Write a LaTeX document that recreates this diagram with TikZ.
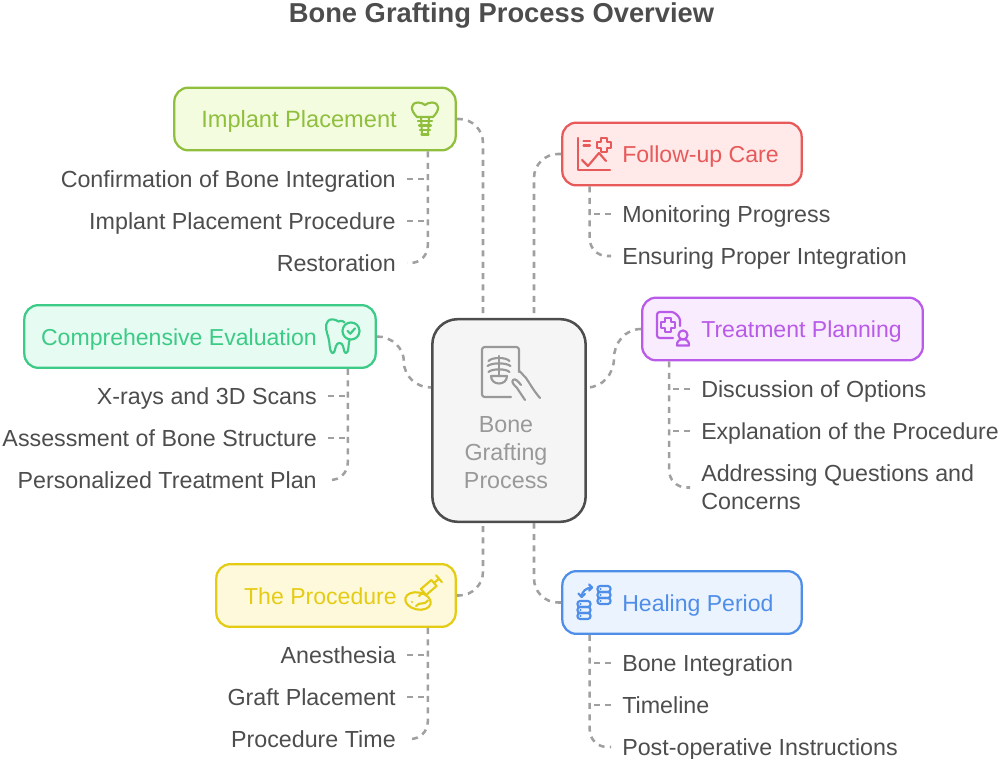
\documentclass[tikz,border=0pt]{standalone}
\usepackage{fontspec}
\setmainfont{Liberation Sans}
\usetikzlibrary{calc}
\definecolor{inkgray}{HTML}{4D4D4D}
\definecolor{linkgray}{HTML}{A0A0A0}
\definecolor{implantgreen}{HTML}{8FBF3D}
\definecolor{implantfill}{HTML}{F4FCE0}
\definecolor{followred}{HTML}{E85A5A}
\definecolor{followfill}{HTML}{FFE9E9}
\definecolor{planpurple}{HTML}{B95AE8}
\definecolor{planfill}{HTML}{F9ECFF}
\definecolor{evalgreen}{HTML}{3CCB87}
\definecolor{evalfill}{HTML}{E6FBF1}
\definecolor{procyellow}{HTML}{E5CC14}
\definecolor{procfill}{HTML}{FFF9DB}
\definecolor{healblue}{HTML}{4F8EE8}
\definecolor{healfill}{HTML}{EBF3FF}
\definecolor{centergray}{HTML}{999999}

\begin{document}
\begin{tikzpicture}[
    x=0.75pt, y=-0.75pt,
    stagebox/.style n args={3}{draw=#1, fill=#2, text=#1, line width=1.7pt, rounded corners=10.5pt, minimum width=#3, minimum height=47pt},
    stagelabel/.style={font=\fontsize{17.3}{21}\selectfont, text height=14.5pt, text depth=1.5pt, inner sep=0pt},
    itemleft/.style={font=\fontsize{17.45}{21}\selectfont, text=inkgray, text height=14.5pt, text depth=1.5pt, inner xsep=8.25pt, inner ysep=0pt, anchor=east},
    itemright/.style={font=\fontsize{17.45}{21}\selectfont, text=inkgray, text height=14.5pt, text depth=1.5pt, inner xsep=8.25pt, inner ysep=0pt, anchor=west},
    linkline/.style={draw=linkgray, line width=1.9pt, dash pattern=on 4.5pt off 4pt},
    iconline/.style={line width=1.6pt, line cap=round, line join=round}
]
\useasboundingbox (0,0) rectangle (1000,759);

% Title
\node[font=\bfseries\fontsize{20.5}{24}\selectfont, text=inkgray] (title) at (501.5,15) {Bone Grafting Process Overview};

% Center box
\node[draw=inkgray, fill=black!4, line width=1.9pt, rounded corners=19pt, minimum width=115pt, minimum height=152pt] (center) at (509,420.5) {};
\node[font=\fontsize{17.45}{21}\selectfont, text=centergray, align=center] (centerlabel) at (506,453) {Bone\\Grafting\\Process};

% Stage boxes
\node[stagebox={implantgreen}{implantfill}{211pt}] (implant) at (315,119) {};
\node[stagebox={followred}{followfill}{179.5pt}] (follow) at (682,154) {};
\node[stagebox={planpurple}{planfill}{210.5pt}] (plan) at (782.5,329) {};
\node[stagebox={evalgreen}{evalfill}{263.5pt}] (evaluation) at (200,336.5) {};
\node[stagebox={procyellow}{procfill}{179.5pt}] (procedure) at (336,595.5) {};
\node[stagebox={healblue}{healfill}{179.5pt}] (healing) at (682,602.5) {};

\node[stagelabel, text=implantgreen, anchor=east, font=\fontsize{17.7}{21}\selectfont] (implantlabel) at (397,119) {Implant Placement};
\node[stagelabel, text=followred, anchor=west] (followlabel) at (622,154) {Follow-up Care};
\node[stagelabel, text=planpurple, anchor=west] (planlabel) at (701,329) {Treatment Planning};
\node[stagelabel, text=evalgreen, anchor=east] (evaluationlabel) at (317,336.5) {Comprehensive Evaluation};
\node[stagelabel, text=procyellow, anchor=east] (procedurelabel) at (397,595.5) {The Procedure};
\node[stagelabel, text=healblue, anchor=west] (healinglabel) at (622,602.5) {Healing Period};

% Items
\node[itemleft] (implantA) at (407,179) {Confirmation of Bone Integration};
\node[itemleft] (implantB) at (407,221) {Implant Placement Procedure};
\node[itemleft] (implantC) at (407,263) {Restoration};
\node[itemright] (followA) at (611,214) {Monitoring Progress};
\node[itemright] (followB) at (611,256) {Ensuring Proper Integration};
\node[itemright] (planA) at (690,389) {Discussion of Options};
\node[itemright, font=\fontsize{17.3}{21}\selectfont] (planB) at (690,431) {Explanation of the Procedure};
\node[itemright, align=left, text height=, text depth=] (planC) at (690,487.5) {Addressing Questions and\\Concerns};
\node[itemleft] (evaluationA) at (328,396) {X-rays and 3D Scans};
\node[itemleft] (evaluationB) at (328,438) {Assessment of Bone Structure};
\node[itemleft] (evaluationC) at (328,480) {Personalized Treatment Plan};
\node[itemleft] (procedureA) at (407,655) {Anesthesia};
\node[itemleft] (procedureB) at (407,697) {Graft Placement};
\node[itemleft] (procedureC) at (407,739) {Procedure Time};
\node[itemright] (healingA) at (611,663) {Bone Integration};
\node[itemright] (healingB) at (611,705) {Timeline};
\node[itemright] (healingC) at (611,747) {Post-operative Instructions};

% Links to the center box
\coordinate (topleft) at ($(center.north)+(-26,0)$);
\coordinate (topright) at ($(center.north)+(25,0)$);
\coordinate (botleft) at ($(center.south)+(-26,0)$);
\coordinate (botright) at ($(center.south)+(25,0)$);
\coordinate (midleft) at ($(center.west)+(0,-33)$);
\coordinate (midright) at ($(center.east)+(0,-33)$);
\coordinate (bendleft) at ($(evaluation.east)!0.5!(midleft)$);
\coordinate (bendright) at ($(plan.west)!0.5!(midright)$);

\draw[linkline, rounded corners=18pt] (implant.east) -| (topleft);
\draw[linkline, rounded corners=18pt] (follow.west) -| (topright);
\draw[linkline, rounded corners=18pt] (procedure.east) -| (botleft);
\draw[linkline, rounded corners=18pt] (healing.west) -| (botright);
\draw[linkline] (evaluation.east) to[out=0, in=90] (bendleft) to[out=-90, in=180] (midleft);
\draw[linkline] (plan.west) to[out=180, in=90] (bendright) to[out=-90, in=0] (midright);

% Trunks and stubs
\coordinate (implanttrunk) at ($(implant.south east)+(-29,0)$);
\coordinate (followtrunk) at ($(follow.south west)+(28.5,0)$);
\coordinate (plantrunk) at ($(plan.south west)+(28,0)$);
\coordinate (evaluationtrunk) at ($(evaluation.south east)+(-29,0)$);
\coordinate (proceduretrunk) at ($(procedure.south east)+(-29,0)$);
\coordinate (healingtrunk) at ($(healing.south west)+(28.5,0)$);

\foreach \stage/\last/\side in {implant/C/east, follow/B/west, plan/C/west, evaluation/C/east, procedure/C/east, healing/C/west} {
    \draw[linkline, rounded corners=13pt] (\stage trunk) |- (\stage\last.\side);
}
\foreach \item/\stage/\side in {implantA/implant/east, implantB/implant/east, evaluationA/evaluation/east, evaluationB/evaluation/east, procedureA/procedure/east, procedureB/procedure/east, followA/follow/west, planA/plan/west, planB/plan/west, healingA/healing/west, healingB/healing/west} {
    \draw[linkline] (\item.\side) -- (\item.\side -| \stage trunk);
}

% Icon: implant
\begin{scope}[iconline, draw=implantgreen]
\draw (417,117) .. controls (410,110) and (410,103) .. (418,102.5) .. controls (421,102) and (423,104) .. (425,105) .. controls (427,104) and (429,102) .. (432,102.5) .. controls (440,103) and (440,110) .. (433,117) -- cycle;
\draw (418,121) -- (432,121) (419,125.5) -- (431,125.5) (420,130) -- (430,130) (421.5,134.5) -- (428.5,134.5);
\draw (421,117) -- (422,134.5) (429,117) -- (428,134.5);
\end{scope}

% Icon: follow-up
\begin{scope}[iconline, draw=followred]
\draw (577.7,138) -- (577.7,170) -- (610,170);
\draw (583.5,141) -- (590,141) (583.5,145.5) -- (590,145.5);
\draw (601.3,138) -- (606.7,138) -- (606.7,142.3) -- (611,142.3) -- (611,147.7) -- (606.7,147.7) -- (606.7,152) -- (601.3,152) -- (601.3,147.7) -- (597,147.7) -- (597,142.3) -- (601.3,142.3) -- cycle;
\draw (582,160) -- (588,166) -- (599,153) -- (606,161);
\end{scope}

% Icon: plan
\begin{scope}[iconline, draw=planpurple]
\draw[rounded corners=2pt] (680,326) -- (680,318) -- (674,312) -- (657,312) -- (657,338) -- (673,338);
\draw (665.3,318) -- (670.7,318) -- (670.7,322.3) -- (675,322.3) -- (675,327.7) -- (670.7,327.7) -- (670.7,332) -- (665.3,332) -- (665.3,327.7) -- (661,327.7) -- (661,322.3) -- (665.3,322.3) -- cycle;
\draw (683,335) circle (3.4pt);
\draw (677,345.5) .. controls (676,337) and (690,337) .. (689,345.5) -- cycle;
\end{scope}

% Icon: evaluation
\begin{scope}[iconline, draw=evalgreen]
\draw (344.5,322.5) .. controls (342,320) and (340,321) .. (338.5,321.5) .. controls (335,319) and (330,318.5) .. (328,321) .. controls (324,325) and (327,333) .. (328.5,338) .. controls (330,343) and (329,350) .. (332,353) .. controls (335,354) and (335,348) .. (336,346) .. controls (337,342) and (342,342) .. (343,346) .. controls (344,349) and (344,353) .. (346,353) .. controls (349,353) and (348,345) .. (349.5,340);
\draw (351,331) circle (6.4pt);
\draw (347.5,331) -- (350.3,333.7) -- (355,328.3);
\end{scope}

% Icon: procedure
\begin{scope}[iconline, draw=procyellow]
\draw[rotate around={-12:(418,601)}] (418,601) ellipse (9.7pt and 6.4pt);
\draw (412,602) -- (412.1,602) (416,606) .. controls (420,601) and (424,606) .. (428,600.5);
\draw[fill=procfill] (426.1,595) -- (420.9,589) -- (431.4,580) -- (436.6,586) -- cycle;
\draw (423.5,592) -- (419,596);
\draw (434,583) -- (439,578.7) (441.9,582.1) -- (436.1,575.3);
\end{scope}

% Icon: healing
\begin{scope}[iconline, draw=healblue]
\foreach \y in {601,607,613} {
    \draw[rounded corners=2pt] (577.5,\y) rectangle (590.5,\y+6);
    \draw (580.5,\y+3) -- (580.6,\y+3);
}
\foreach \y in {586,592,598} {
    \draw[rounded corners=2pt] (597.5,\y) rectangle (610.5,\y+6);
    \draw (600.5,\y+3) -- (600.6,\y+3);
}
\draw (581.5,597) .. controls (582,591) and (586,588) .. (592,587.5);
\draw (578.5,593.5) -- (581.5,597) -- (585,594);
\draw (589,584.5) -- (592,587.5) -- (589,590.5);
\end{scope}

% Icon: center
\begin{scope}[iconline, draw=centergray]
\draw[rounded corners=2pt] (519,372) -- (519,347) -- (482,347) -- (482,397) -- (511,397);
\draw (499,356) -- (499,376);
\draw (488.5,361) .. controls (492,357) and (506,357) .. (509.5,361);
\draw (487.5,366) .. controls (492,362.5) and (506,362.5) .. (510.5,366);
\draw (488.5,372) .. controls (492,368.5) and (506,368.5) .. (509.5,372);
\draw (491,376) -- (507,376) .. controls (507,386) and (491,386) .. (491,376) -- cycle;
\draw (519.5,371) -- (526,378) .. controls (529,382) and (533,390) .. (540,398);
\draw (525,400) -- (517,388) .. controls (514,385) and (511,382) .. (513,380) .. controls (515,378) and (518,381) .. (521,385);
\end{scope}

\end{tikzpicture}
\end{document}
